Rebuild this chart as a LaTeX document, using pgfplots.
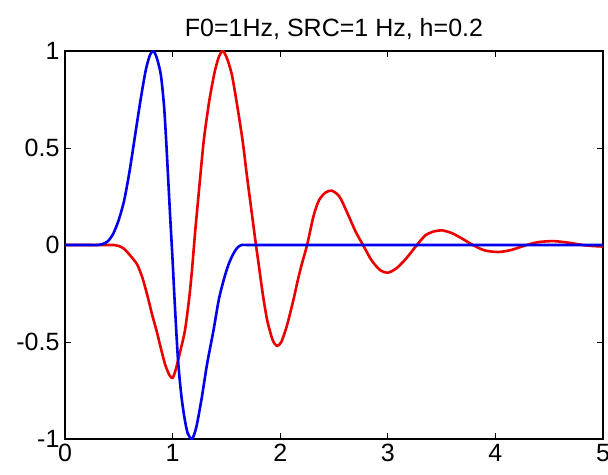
\documentclass[border=0pt]{standalone}
\usepackage{fontspec}
\setmainfont{Liberation Sans}
\usepackage{pgfplots}
\pgfplotsset{compat=1.18}
\definecolor{mblue}{RGB}{0,0,235}
\definecolor{mred}{RGB}{235,0,0}
\begin{document}
\begin{tikzpicture}
\begin{axis}[
    name=ax, scale only axis, width=538pt, height=388pt,
    xmin=0, xmax=5, ymin=-1, ymax=1,
    xtick={0,1,2,3,4,5}, ytick={-1,-0.5,0,0.5,1},
    tick align=inside, major tick length=6pt,
    xtick pos=both, ytick pos=both,
    axis line style={line width=1.1pt},
    every tick/.style={black, line width=1pt},
    tick label style={font=\fontsize{25}{30}\selectfont},
    xticklabel style={yshift=-2pt},
    yticklabel style={xshift=-2pt},
    /pgf/number format/assume math mode=true,
    title={F0=1Hz, SRC=1 Hz, h=0.2},
    title style={font=\fontsize{25}{30}\selectfont, yshift=2pt},
]
% red drawn first so the blue pulse lies on top, as in the reference
\addplot[mred, line width=2.6pt, smooth, tension=0.45] coordinates {
(0,0) (0.1,0) (0.2,0) (0.3,0) (0.4,0) (0.45,0) (0.5,-0.005) (0.55,-0.02) (0.6,-0.05) (0.67,-0.1) (0.72,-0.17)
(0.77,-0.27) (0.81,-0.36) (0.85,-0.44) (0.89,-0.53) (0.93,-0.615) (0.97,-0.67)
(1.0,-0.685) (1.03,-0.64) (1.07,-0.55) (1.115,-0.44) (1.155,-0.27) (1.18,-0.13)
(1.21,0.07) (1.25,0.31) (1.29,0.54) (1.34,0.74) (1.39,0.89) (1.43,0.97)
(1.465,1.0) (1.5,0.97) (1.55,0.88) (1.6,0.72) (1.65,0.54) (1.69,0.36)
(1.73,0.19) (1.77,0.02) (1.8,-0.1) (1.84,-0.26) (1.88,-0.39) (1.93,-0.49)
(1.97,-0.52) (2.01,-0.5) (2.06,-0.42) (2.12,-0.29) (2.16,-0.19) (2.2,-0.1)
(2.25,0.0) (2.31,0.15) (2.36,0.23) (2.42,0.27) (2.48,0.28) (2.55,0.25)
(2.62,0.17) (2.7,0.07) (2.77,0.0) (2.85,-0.08) (2.93,-0.13) (3.0,-0.143)
(3.08,-0.12) (3.17,-0.07) (3.27,0.0) (3.35,0.05) (3.43,0.07) (3.51,0.075)
(3.6,0.06) (3.7,0.03) (3.79,0.0) (3.9,-0.028) (4.03,-0.036) (4.15,-0.025)
(4.29,0.0) (4.4,0.015) (4.54,0.02) (4.68,0.012) (4.81,0.0) (4.9,-0.005) (5,-0.008)
};
\addplot[mblue, line width=2.6pt, smooth, tension=0.45] coordinates {
(0,0) (0.1,0) (0.2,0) (0.3,0) (0.35,0.005) (0.4,0.02) (0.45,0.06) (0.5,0.13) (0.55,0.23)
(0.6,0.38) (0.65,0.56) (0.7,0.74) (0.75,0.9) (0.79,0.98) (0.82,1.0)
(0.85,0.97) (0.89,0.88) (0.92,0.72) (0.94,0.54) (0.96,0.33) (0.98,0.12)
(1.0,-0.08) (1.02,-0.3) (1.05,-0.59) (1.08,-0.77) (1.11,-0.89) (1.14,-0.97)
(1.18,-1.0) (1.22,-0.94) (1.27,-0.79) (1.32,-0.615) (1.38,-0.44) (1.43,-0.28)
(1.48,-0.17) (1.52,-0.1) (1.56,-0.05) (1.6,-0.015) (1.64,0) (1.7,0) (1.8,0)
(1.9,0) (2.0,0) (2.2,0) (2.4,0) (2.6,0) (2.8,0) (3.0,0) (3.2,0) (3.4,0)
(3.6,0) (3.8,0) (4.0,0) (4.2,0) (4.4,0) (4.6,0) (4.8,0) (5,0)
};
\end{axis}
\pgfresetboundingbox
\path[use as bounding box] ([xshift=-65pt,yshift=-35pt]ax.south west) rectangle ([xshift=5pt,yshift=51pt]ax.north east);
\end{tikzpicture}
\end{document}
